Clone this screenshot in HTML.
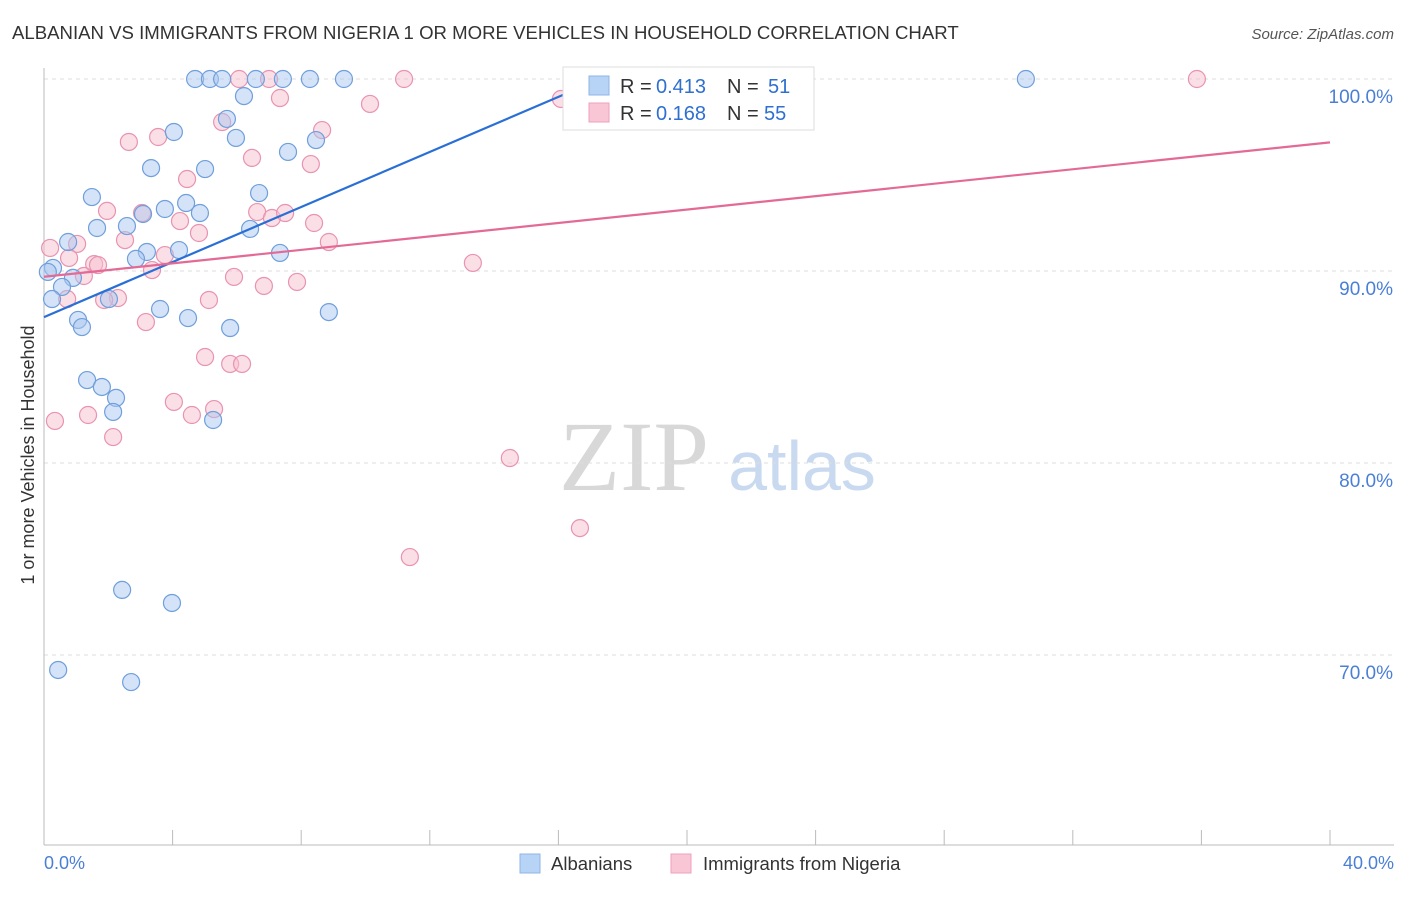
<!DOCTYPE html>
<html><head><meta charset="utf-8"><style>
body{margin:0;background:#fff;font-family:"Liberation Sans",sans-serif;}
</style></head><body>
<svg id="chart" width="1406" height="892" style="font-family:'Liberation Sans',sans-serif">
<text x="12" y="39" font-size="18.6" fill="#333">ALBANIAN VS IMMIGRANTS FROM NIGERIA 1 OR MORE VEHICLES IN HOUSEHOLD CORRELATION CHART</text>
<text x="1394" y="39" font-size="15" fill="#555" font-style="italic" text-anchor="end">Source: ZipAtlas.com</text>
<text x="634" y="490" font-size="100" fill="#d8d8d8" style="font-family:'Liberation Serif',serif" text-anchor="middle">ZIP</text>
<text x="802" y="490" font-size="70" fill="#c9daf0" text-anchor="middle">atlas</text>
<g id="grid"></g>
<g id="pts"></g>
<g id="lines"></g>
<text transform="translate(34,455) rotate(-90)" font-size="18" fill="#333" text-anchor="middle">1 or more Vehicles in Household</text>
<text x="44" y="869" font-size="18" fill="#4a7fd6">0.0%</text>
<text x="1394" y="869" font-size="18" fill="#4a7fd6" text-anchor="end">40.0%</text>
<g>
<rect x="563" y="67" width="251" height="63" fill="#fff" stroke="#ddd"/>
<rect x="589" y="76" width="20" height="19" fill="#b7d3f5" stroke="#8fb4e6"/>
<rect x="589" y="103" width="20" height="19" fill="#f9c6d6" stroke="#eea0b9"/>
<text x="620" y="93" font-size="20" fill="#333">R =</text>
<text x="656" y="93" font-size="20" fill="#2f6fd0">0.413</text>
<text x="727" y="93" font-size="20" fill="#333">N =</text>
<text x="768" y="93" font-size="20" fill="#2f6fd0">51</text>
<text x="620" y="120" font-size="20" fill="#333">R =</text>
<text x="656" y="120" font-size="20" fill="#2f6fd0">0.168</text>
<text x="727" y="120" font-size="20" fill="#333">N =</text>
<text x="764" y="120" font-size="20" fill="#2f6fd0">55</text>
</g>
<g>
<rect x="520" y="854" width="20" height="19" fill="#b7d3f5" stroke="#8fb4e6"/>
<text x="551" y="870" font-size="18.5" fill="#333">Albanians</text>
<rect x="671" y="854" width="20" height="19" fill="#f9c6d6" stroke="#eea0b9"/>
<text x="703" y="870" font-size="18.5" fill="#333">Immigrants from Nigeria</text>
</g>
</svg>
<script>
const yTicks=[100,90,80,70];
const xTicks=[0,4,8,12,16,20,24,28,32,36,40];
const bluePx=[[195,79],[210,79],[222,79],[256,79],[283,79],[310,79],[344,79],[1026,79],[244,96],[227,119],[174,132],[236,138],[316,140],[288,152],[151,168],[205,169],[92,197],[259,193],[186,203],[165,209],[200,213],[143,214],[127,226],[97,228],[250,229],[68,242],[179,250],[147,252],[280,253],[136,259],[53,268],[73,278],[62,287],[52,299],[109,299],[160,309],[329,312],[78,320],[82,327],[188,318],[230,328],[87,380],[102,387],[116,398],[113,412],[213,420],[122,590],[172,603],[58,670],[131,682],[48,272]];
const pinkPx=[[239,79],[269,79],[404,79],[1197,79],[280,98],[370,104],[561,99],[222,122],[322,130],[129,142],[158,137],[252,158],[311,164],[187,179],[107,211],[142,213],[257,212],[272,218],[285,213],[180,221],[314,223],[199,233],[125,240],[77,244],[329,242],[165,255],[94,264],[98,265],[152,270],[84,276],[234,277],[264,286],[297,282],[473,263],[67,299],[118,298],[209,300],[146,322],[205,357],[230,364],[242,364],[174,402],[214,409],[192,415],[88,415],[113,437],[510,458],[580,528],[410,557],[69,258],[104,300],[50,248],[55,421]];
const blueX=bluePx.map(p=>+((p[0]-44)/32.15).toFixed(2)), blueY=bluePx.map(p=>+(100-(p[1]-79)/19.2).toFixed(2));
const pinkX=pinkPx.map(p=>+((p[0]-44)/32.15).toFixed(2)), pinkY=pinkPx.map(p=>+(100-(p[1]-79)/19.2).toFixed(2));
const blueLine=[[0,87.6],[17.3,100]];
const pinkLine=[[0,89.7],[40,96.7]];
const X=v=>44+v*32.15, Y=v=>79+(100-v)*19.2;
const NS="http://www.w3.org/2000/svg";
function mk(t,a,p){const e=document.createElementNS(NS,t);for(const k in a)e.setAttribute(k,a[k]);p.appendChild(e);return e;}
const g=document.getElementById('grid');
yTicks.forEach(v=>{
 const l=mk('line',{x1:44,x2:1394,y1:Y(v),y2:Y(v),stroke:'#ddd','stroke-dasharray':'4,4'},g);
 
 
 const t=mk('text',{x:1393,y:Y(v)+24,'font-size':19,fill:'#4a7fd6','text-anchor':'end'},g);t.textContent=v.toFixed(1)+'%';
 
 
});
mk('line',{x1:44,x2:44,y1:68,y2:845,stroke:'#bbb'},g);
mk('line',{x1:44,x2:1394,y1:845,y2:845,stroke:'#bbb'},g);
xTicks.forEach(v=>{const l=mk('line',{x1:X(v),x2:X(v),y1:830,y2:845,stroke:'#bbb'},g);
 
 });
const pg=document.getElementById('pts');
function dots(xs,ys,fill,stroke,name){xs.forEach((x,i)=>{
 const c=mk('circle',{cx:X(x),cy:Y(ys[i]),r:8.5,fill:fill,stroke:stroke,'stroke-width':1.2,'fill-opacity':0.5},pg);
 
 });}
dots(pinkX,pinkY,'#f7bfd0','#e993b0','point-nigeria');
dots(blueX,blueY,'#a9c8ef','#6f9fdc','point-albanian');
const lg=document.getElementById('lines');
const bl=mk('line',{x1:X(blueLine[0][0]),y1:Y(blueLine[0][1]),x2:X(blueLine[1][0]),y2:Y(blueLine[1][1]),stroke:'#2a6fd6','stroke-width':2.2},lg);


const pl=mk('line',{x1:X(pinkLine[0][0]),y1:Y(pinkLine[0][1]),x2:X(pinkLine[1][0]),y2:Y(pinkLine[1][1]),stroke:'#e46a96','stroke-width':2.2},lg);


</script>
</body></html>
